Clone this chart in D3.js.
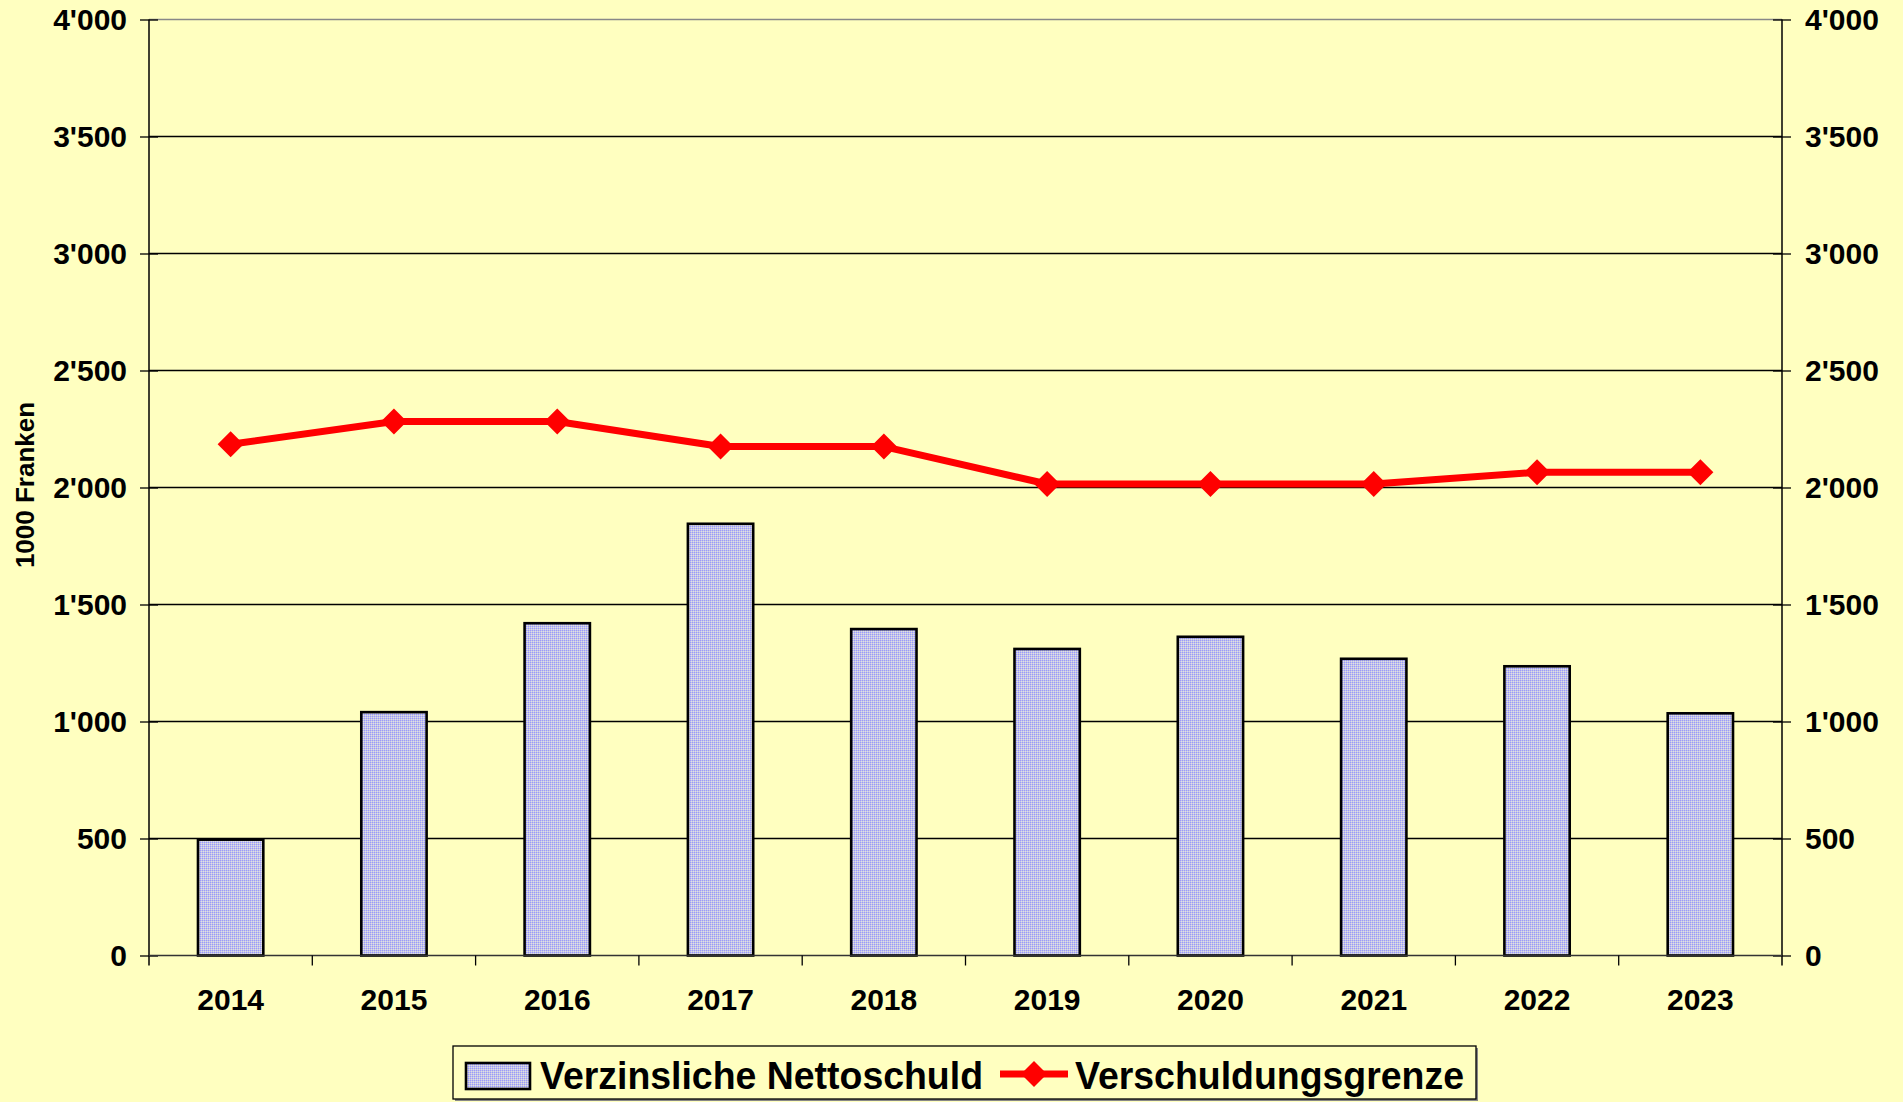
<!DOCTYPE html>
<html>
<head>
<meta charset="utf-8">
<script src="https://cdn.jsdelivr.net/npm/d3@7"></script>
<style>
  html, body { margin: 0; padding: 0; background: #ffffc0; }
  svg { display: block; font-family: "Liberation Sans", Arial, sans-serif; }
</style>
</head>
<body>
<div id="canvas"></div>
<script>
"use strict"

/* Data */
let years = ["2014", "2015", "2016", "2017", "2018", "2019", "2020", "2021", "2022", "2023"];
let nettoschuld = [495, 1040, 1420, 1845, 1395, 1310, 1362, 1268, 1236, 1035];
let grenze = [2185, 2282, 2282, 2175, 2175, 2015, 2015, 2015, 2065, 2065];
let yTicks = [0, 500, 1000, 1500, 2000, 2500, 3000, 3500, 4000];
let seriesNames = ["Verzinsliche Nettoschuld", "Verschuldungsgrenze"];

/* Drawing config */
let svgWidth = 1903;
let svgHeight = 1102;
let plotLeft = 149, plotRight = 1782, plotTop = 19.5, plotBottom = 955.5;
let labelSize = 30;

let svg = d3.select("#canvas")
    .append("svg")
    .attr("width", svgWidth)
    .attr("height", svgHeight);

svg.append("rect")
    .attr("width", svgWidth)
    .attr("height", svgHeight)
    .attr("fill", "#ffffc0");

/* dither pattern for bars */
let pat = svg.append("defs").append("pattern")
    .attr("id", "dots")
    .attr("width", 2)
    .attr("height", 2)
    .attr("patternUnits", "userSpaceOnUse");
pat.append("rect").attr("width", 2).attr("height", 2).attr("fill", "#c0c0ee");
pat.append("rect").attr("width", 1).attr("height", 1).attr("fill", "#9c9cf6");
pat.append("rect").attr("x", 1).attr("y", 1).attr("width", 1).attr("height", 1).attr("fill", "#e2e2dc");

let xScale = d3.scaleBand()
    .domain(years)
    .range([plotLeft, plotRight])
    .paddingInner(0.6)
    .paddingOuter(0.3);

let yScale = d3.scaleLinear()
    .domain([0, 4000])
    .range([plotBottom, plotTop]);

/* gridlines */
svg.append("g")
    .selectAll("line")
    .data(yTicks.filter(d => d > 0))
    .join("line")
    .attr("x1", plotLeft)
    .attr("x2", plotRight)
    .attr("y1", d => yScale(d))
    .attr("y2", d => yScale(d))
    .attr("stroke", d => d == 4000 ? "#888" : "#000")
    .attr("stroke-width", 1.3);

let fmt = d => d3.format(",")(d).replace(",", "'");

/* left axis */
let gL = svg.append("g")
    .attr("transform", "translate(" + plotLeft + ",0)")
    .call(d3.axisLeft(yScale).tickValues(yTicks).tickSize(0).tickPadding(22).tickFormat(fmt));
gL.select(".domain").remove();
gL.selectAll(".tick line").remove();
gL.selectAll(".tick").append("line")
    .attr("x1", -9).attr("x2", 9)
    .attr("stroke", "#000").attr("stroke-width", 1.3);
gL.selectAll("text")
    .attr("font-size", labelSize)
    .attr("font-weight", "bold")
    .attr("fill", "#000")
    .attr("font-family", "'Liberation Sans', Arial, sans-serif");

/* right axis */
let gR = svg.append("g")
    .attr("transform", "translate(" + plotRight + ",0)")
    .call(d3.axisRight(yScale).tickValues(yTicks).tickSize(0).tickPadding(23).tickFormat(fmt));
gR.select(".domain").remove();
gR.selectAll(".tick line").remove();
gR.selectAll(".tick").append("line")
    .attr("x1", -9).attr("x2", 9)
    .attr("stroke", "#000").attr("stroke-width", 1.3);
gR.selectAll("text")
    .attr("font-size", labelSize)
    .attr("font-weight", "bold")
    .attr("fill", "#000")
    .attr("font-family", "'Liberation Sans', Arial, sans-serif");

/* bars */
svg.append("g")
    .selectAll("rect")
    .data(nettoschuld)
    .join("rect")
    .attr("x", (d, i) => xScale(years[i]))
    .attr("y", d => yScale(d))
    .attr("width", xScale.bandwidth())
    .attr("height", d => plotBottom - yScale(d))
    .attr("fill", "url(#dots)")
    .attr("stroke", "#000")
    .attr("stroke-width", 2.6);

/* vertical axis lines */
svg.append("line")
    .attr("x1", plotLeft).attr("x2", plotLeft)
    .attr("y1", plotTop).attr("y2", plotBottom + 10)
    .attr("stroke", "#000").attr("stroke-width", 1.5);
svg.append("line")
    .attr("x1", plotRight).attr("x2", plotRight)
    .attr("y1", plotTop).attr("y2", plotBottom + 10)
    .attr("stroke", "#000").attr("stroke-width", 1.5);

/* x axis */
let gX = svg.append("g")
    .attr("transform", "translate(0," + plotBottom + ")")
    .call(d3.axisBottom(xScale).tickSize(0).tickPadding(33));
gX.select(".domain").remove();
gX.selectAll("text")
    .attr("font-size", labelSize)
    .attr("font-weight", "bold")
    .attr("fill", "#000")
    .attr("font-family", "'Liberation Sans', Arial, sans-serif");

svg.append("line")
    .attr("x1", plotLeft).attr("x2", plotRight)
    .attr("y1", plotBottom).attr("y2", plotBottom)
    .attr("stroke", "#333").attr("stroke-width", 1.6);

let step = xScale.step();
svg.append("g")
    .selectAll("line")
    .data(years.slice(1))
    .join("line")
    .attr("x1", d => xScale(d) - step * 0.3)
    .attr("x2", d => xScale(d) - step * 0.3)
    .attr("y1", plotBottom)
    .attr("y2", plotBottom + 10)
    .attr("stroke", "#000")
    .attr("stroke-width", 1.3);

/* line series */
let cx = (d, i) => xScale(years[i]) + xScale.bandwidth() / 2;
let line = d3.line()
    .x(cx)
    .y(d => yScale(d));

svg.append("path")
    .datum(grenze)
    .attr("d", line)
    .attr("fill", "none")
    .attr("stroke", "#ff0000")
    .attr("stroke-width", 7)
    .attr("stroke-linejoin", "round");

let diamond = "M0,-13L13,0L0,13L-13,0Z";
svg.append("g")
    .selectAll("path")
    .data(grenze)
    .join("path")
    .attr("d", diamond)
    .attr("transform", (d, i) => "translate(" + cx(d, i) + "," + yScale(d) + ")")
    .attr("fill", "#ff0000");

/* y axis title */
svg.append("text")
    .attr("transform", "translate(34,485) rotate(-90)")
    .attr("text-anchor", "middle")
    .attr("font-size", 26)
    .attr("font-weight", "bold")
    .text("1000 Franken");

/* legend */
let lg = svg.append("g");
lg.append("rect")
    .attr("x", 455).attr("y", 1048)
    .attr("width", 1023).attr("height", 53)
    .attr("fill", "#888");
lg.append("rect")
    .attr("x", 453).attr("y", 1046)
    .attr("width", 1023).attr("height", 53)
    .attr("fill", "#ffffc0")
    .attr("stroke", "#000")
    .attr("stroke-width", 1.3);
lg.append("rect")
    .attr("x", 466).attr("y", 1063)
    .attr("width", 64).attr("height", 26)
    .attr("fill", "url(#dots)")
    .attr("stroke", "#000")
    .attr("stroke-width", 2.6);
lg.append("text")
    .attr("x", 540).attr("y", 1089)
    .attr("font-size", 39)
    .attr("font-weight", "bold")
    .attr("textLength", 443)
    .attr("lengthAdjust", "spacingAndGlyphs")
    .text(seriesNames[0]);
lg.append("line")
    .attr("x1", 1000).attr("x2", 1068)
    .attr("y1", 1074).attr("y2", 1074)
    .attr("stroke", "#ff0000")
    .attr("stroke-width", 7);
lg.append("path")
    .attr("d", diamond)
    .attr("transform", "translate(1034,1074)")
    .attr("fill", "#ff0000");
lg.append("text")
    .attr("x", 1075).attr("y", 1089)
    .attr("font-size", 39)
    .attr("font-weight", "bold")
    .attr("textLength", 389)
    .attr("lengthAdjust", "spacingAndGlyphs")
    .text(seriesNames[1]);
</script>
</body>
</html>
